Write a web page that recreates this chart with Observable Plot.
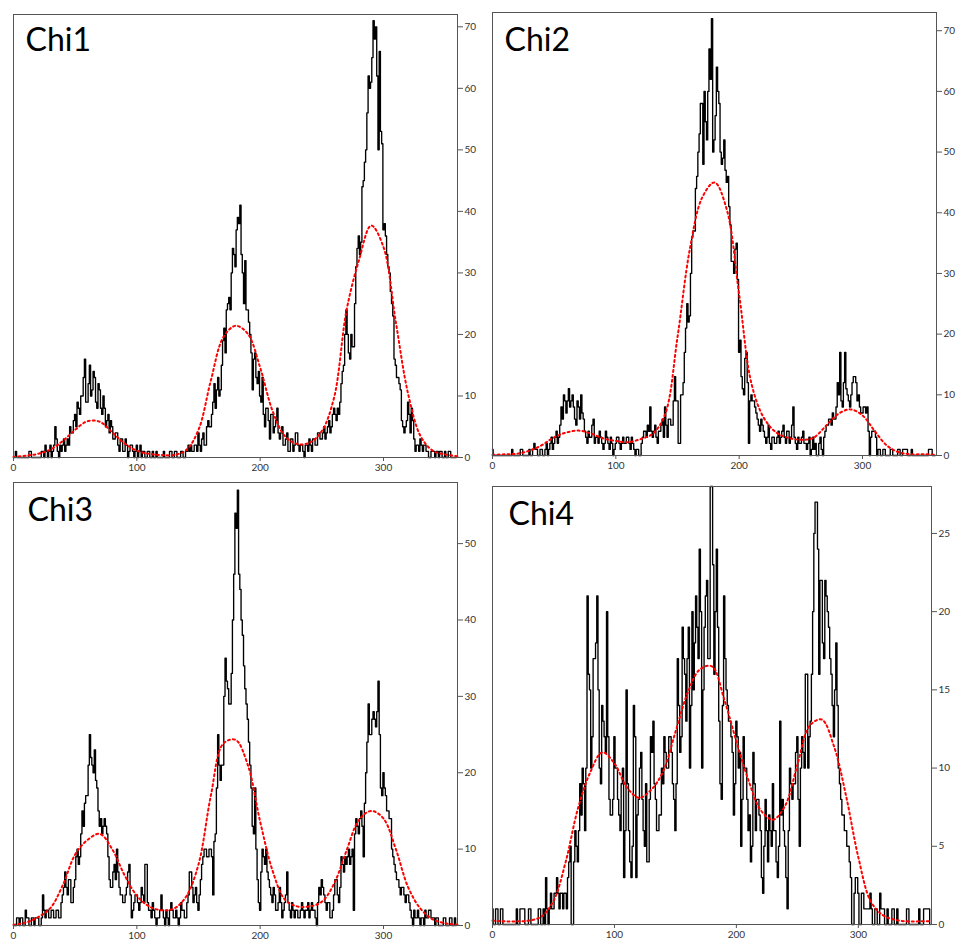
<!DOCTYPE html>
<html><head><meta charset="utf-8">
<script src="https://cdn.jsdelivr.net/npm/d3@7"></script>
<script src="https://cdn.jsdelivr.net/npm/@observablehq/plot@0.6"></script>
<style>
body{margin:0;background:#fff;}
#wrap{position:relative;width:961px;height:942px;overflow:hidden;background:#fff;}
.panel{position:absolute;}
</style></head><body><div id="wrap"></div>
<script>
// bin width (degrees) of the histogram counts, and spacing of fitted-curve samples
const binStep = 1;
const fitStep = 10;
const xTicks = [0, 100, 200, 300];
const titles = ["Chi1", "Chi2", "Chi3", "Chi4"];
const yTicks1 = [0, 10, 20, 30, 40, 50, 60, 70];
const yTicks2 = [0, 10, 20, 30, 40, 50, 60, 70];
const yTicks3 = [0, 10, 20, 30, 40, 50];
const yTicks4 = [0, 5, 10, 15, 20, 25];

// histogram counts, one value per degree (0..359)
const chi1Counts = [
0,0,1,0,0,0,0,0,0,0, 0,0,0,1,1,0,0,0,0,0, 0,0,0,1,1,0,2,1,0,1, 2,0,1,2,5,3,1,0,2,1,
2,3,1,2,3,2,5,4,4,6, 7,5,9,8,7,10,10,13,16,9, 9,12,15,10,11,14,13,9,8,12, 11,8,7,10,8,5,6,7,4,6,
5,3,3,4,4,2,1,3,3,1, 1,3,2,0,1,2,2,1,0,1, 2,0,1,2,0,1,1,0,0,1, 1,0,0,1,0,0,1,0,0,0,
0,0,1,0,0,0,0,1,1,0, 0,1,1,0,0,0,1,1,0,0, 1,1,2,1,2,1,1,2,2,1, 4,2,1,3,4,2,2,5,6,5,
5,7,9,12,8,11,13,10,11,15, 19,21,17,24,25,26,24,30,34,33, 31,37,39,38,41,33,30,25,32,24, 24,22,20,17,11,16,17,13,12,14,
10,9,13,7,5,8,8,6,3,7, 7,4,5,6,8,4,3,4,5,2, 2,3,4,1,1,3,3,1,2,4, 4,2,1,2,2,1,0,2,2,1,
3,2,1,3,3,2,2,4,4,3, 3,4,5,3,4,5,6,4,5,7, 8,7,6,8,7,9,12,14,15,20, 24,20,17,16,20,18,18,25,31,34,
36,33,35,44,45,48,50,56,62,60, 61,65,71,68,70,62,50,66,53,51, 37,38,36,33,31,30,27,25,23,16, 15,13,13,12,11,6,5,4,5,6,
9,7,4,8,6,3,1,2,2,1, 3,2,1,2,2,1,1,0,0,1, 1,1,0,1,1,0,1,1,0,0, 1,0,0,1,1,0,0,0,0,0];
const chi2Counts = [
1,0,0,0,0,0,0,0,0,0, 0,0,0,0,0,0,1,0,0,0, 0,0,0,1,1,0,0,0,0,0, 1,0,0,1,2,1,1,0,0,1,
1,0,0,1,2,0,1,2,3,1, 2,3,4,2,3,5,8,6,10,9, 7,9,11,8,9,10,8,6,5,9, 8,6,10,7,6,4,3,2,4,3,
3,5,6,2,3,3,2,4,3,2, 1,2,4,3,2,1,3,2,0,1, 2,3,3,2,1,2,3,2,2,3, 3,2,1,3,2,1,0,1,1,0,
0,2,3,4,4,3,5,4,8,4, 3,4,5,3,2,4,4,5,6,3, 8,5,3,6,6,5,5,9,13,9, 9,2,2,10,10,12,17,21,25,22,
23,30,36,37,37,44,46,50,53,58, 58,48,60,55,52,60,67,62,72,50, 52,56,64,60,58,50,48,49,52,47, 45,46,41,38,32,32,30,34,35,29,
17,19,13,11,10,16,17,12,2,9, 10,9,9,8,7,6,5,4,6,5, 4,3,2,3,5,2,1,3,3,2, 2,3,4,2,3,4,5,3,2,4,
4,2,3,5,8,3,2,1,3,2, 2,3,4,2,2,1,2,3,0,1, 3,1,2,0,0,2,3,1,0,3, 4,5,5,6,6,5,7,6,6,8,
12,10,17,9,8,12,17,11,10,9, 8,10,12,13,13,12,9,10,8,7, 7,8,8,7,8,4,0,3,4,4, 4,3,0,1,1,0,0,1,1,0,
0,0,0,1,1,0,0,0,0,1, 1,0,0,1,1,1,1,0,0,0, 1,0,0,0,0,0,0,0,0,0, 0,0,0,0,1,1,1,0,0,0];
const chi3Counts = [
0,0,0,1,1,0,1,1,0,0, 2,1,1,0,0,1,1,0,1,1, 1,0,0,1,4,2,1,2,2,1, 1,2,2,1,1,2,2,1,1,3,
4,5,7,5,4,6,6,3,3,5, 6,9,10,8,9,12,15,13,16,17, 17,21,25,22,21,20,23,19,18,15, 13,14,12,13,14,13,12,9,6,5,
5,7,8,6,10,7,5,4,4,3, 3,4,5,7,8,4,1,2,3,4, 4,3,2,3,5,4,3,8,8,3, 2,2,1,3,2,1,0,1,1,2,
4,2,1,0,2,1,0,2,3,2, 1,1,2,1,0,1,3,2,2,1, 1,3,4,7,7,5,3,4,5,3, 2,4,6,8,9,10,10,9,9,10,
10,9,4,11,12,18,25,21,19,21, 21,30,35,32,31,29,29,33,40,46, 54,52,57,46,44,40,38,34,31,29, 27,24,21,18,13,12,18,10,6,3,
2,7,10,9,8,10,7,6,5,4, 3,5,4,2,2,3,5,3,1,2, 3,4,7,3,2,1,3,2,1,2, 2,1,1,2,3,2,1,2,2,3,
1,2,3,2,2,1,0,3,5,4, 6,5,4,3,2,3,3,1,1,2, 4,6,6,4,3,5,9,8,7,9, 8,9,10,8,9,10,2,12,14,13,
12,14,15,13,9,16,20,24,29,25, 25,27,28,27,26,28,32,25,18,17, 20,18,17,15,15,14,14,10,9,8, 7,6,6,5,4,5,5,4,3,4,
4,3,2,1,0,2,1,1,2,1, 0,1,1,0,2,1,1,2,2,1, 1,1,0,1,1,0,0,0,0,1, 1,0,0,0,1,1,0,0,1,0];
const chi4Counts = [
1,0,0,1,1,0,0,1,1,0, 0,0,0,0,0,0,0,0,0,0, 1,0,0,1,1,1,1,0,0,0, 1,1,0,0,0,0,0,0,1,1,
0,0,1,0,3,1,0,1,2,1, 1,2,2,3,2,1,2,2,1,2, 2,1,3,4,5,0,0,4,6,5, 4,6,9,7,10,9,6,10,21,16,
15,10,12,17,17,18,21,15,10,9, 14,13,12,11,20,12,8,7,7,8, 12,10,10,8,7,6,9,10,3,6, 15,9,6,4,3,5,14,12,3,7,
8,10,11,8,6,5,9,4,4,8, 12,11,13,9,8,6,6,7,7,10, 9,12,11,10,10,12,12,11,9,8, 6,9,17,14,11,12,19,17,16,13,
17,19,10,14,20,15,18,21,19,17, 24,20,10,15,19,21,22,17,17,28, 28,23,16,20,24,19,13,9,8,14, 21,17,15,14,13,13,12,11,7,9,
13,12,10,11,5,8,12,10,10,8, 6,7,4,5,11,9,6,8,8,7, 6,3,2,5,8,6,4,7,6,5, 9,6,6,4,3,5,13,7,8,6,
5,3,1,6,10,9,8,9,9,11, 12,8,5,10,12,11,10,16,16,10, 12,13,16,20,25,27,27,24,16,22, 22,18,17,22,21,20,19,17,16,14,
12,15,18,14,10,9,8,7,7,6, 6,5,5,4,3,0,0,2,3,3, 2,0,0,2,2,1,1,1,1,1, 2,1,0,0,1,1,0,0,2,1,
1,1,0,0,1,0,0,0,1,1, 0,0,1,0,0,0,0,0,0,0, 1,1,0,0,0,0,0,0,0,0, 1,0,0,0,1,1,1,1,1,0];

// fitted (red dotted) curves, sampled every 10 degrees from 0 to 360
const chi1Fit = [0.1,0.3,0.6,1.3,2.7,4.5,5.9,5.8,4.1,2.3,1.1,0.6,0.4,0.4,1.2,4.5,12.5,19.5,21.4,20.1,14.6,7.6,3.5,2.2,2.4,4.3,9.8,23.9,32,37.7,34.2,22,10.3,3.5,1.1,0.5,0.2];
const chi2Fit = [0.1,0.2,0.3,0.8,1.7,3.0,3.8,4.1,3.6,2.8,2.4,2.2,2.7,3.6,6.8,19.5,34,42.5,45,40.5,26.5,11.8,6.2,3.8,2.9,2.6,2.9,4.8,6.8,7.6,6.6,4,1.6,0.5,0.2,0.2,0.1];
const chi3Fit = [0.1,0.4,1.1,2.3,5.3,9.3,11.2,12,10,6.6,3.9,2.5,2,2.2,3.8,8,17,23.8,24.3,21,13.6,7.2,3.4,2.5,2.5,3.1,5.5,9.8,13.8,15,14,10,5,2.2,0.8,0.3,0.1];
const chi4Fit = [0.25,0.2,0.2,0.25,0.5,1.5,4,7.4,9.7,11,10.3,8.8,8.1,8.6,9.8,12.3,14.8,16.3,16.5,14.4,11.7,9.2,7.3,6.7,7.6,10.2,12.7,13.1,11.4,8.2,4.3,1.5,0.6,0.3,0.2,0.2,0.2];

const layout = [
  {left:0,   top:0,   width:480, height:475, mt:14, mr:23, mb:18, ml:13, yMax:72, tdx:12, tdy:14},
  {left:479, top:0,   width:482, height:475, mt:12, mr:25, mb:20, ml:13, yMax:73, tdx:12, tdy:16},
  {left:0,   top:470, width:480, height:472, mt:12, mr:23, mb:17, ml:13, yMax:58, tdx:14, tdy:16},
  {left:479, top:470, width:482, height:472, mt:16, mr:30, mb:18, ml:13, yMax:28, tdx:16, tdy:16}
];
const countsAll = [chi1Counts, chi2Counts, chi3Counts, chi4Counts];
const fitsAll = [chi1Fit, chi2Fit, chi3Fit, chi4Fit];
const yTicksAll = [yTicks1, yTicks2, yTicks3, yTicks4];

const wrap = document.getElementById("wrap");
layout.forEach((L, k) => {
  const counts = countsAll[k].map((v, i) => ({x: i * binStep, y: v}));
  const fit = fitsAll[k].map((v, i) => ({x: i * fitStep, y: v}));
  const chart = Plot.plot({
    width: L.width, height: L.height,
    marginTop: L.mt, marginRight: L.mr, marginBottom: L.mb, marginLeft: L.ml,
    style: {background: "transparent", fontFamily: "Lato, sans-serif", fontSize: "10px", color: "#333", overflow: "visible"},
    x: {domain: [0, 360]},
    y: {domain: [0, L.yMax]},
    marks: [
      Plot.line(counts, {x: "x", y: "y", curve: "step", stroke: "black", strokeWidth: 1.35}),
      Plot.line(fit, {x: "x", y: "y", curve: "catmull-rom", stroke: "#ff0000", strokeWidth: 2, strokeDasharray: "2 3"}),
      Plot.frame({stroke: "#555", strokeWidth: 1}),
      Plot.axisX({ticks: xTicks, tickSize: 4, tickPadding: 2, label: null, stroke: "#555"}),
      Plot.axisY({anchor: "right", ticks: yTicksAll[k], tickSize: 5, tickPadding: 2, label: null, stroke: "#555"}),
      Plot.text([titles[k]], {frameAnchor: "top-left", dx: L.tdx, dy: L.tdy, text: d => d, textAnchor: "start", lineAnchor: "top", fontSize: 32, fontFamily: "Lato, sans-serif", fill: "black"})
    ]
  });
  const div = document.createElement("div");
  div.className = "panel";
  div.style.left = L.left + "px";
  div.style.top = L.top + "px";
  div.appendChild(chart);
  wrap.appendChild(div);
});
</script></body></html>
